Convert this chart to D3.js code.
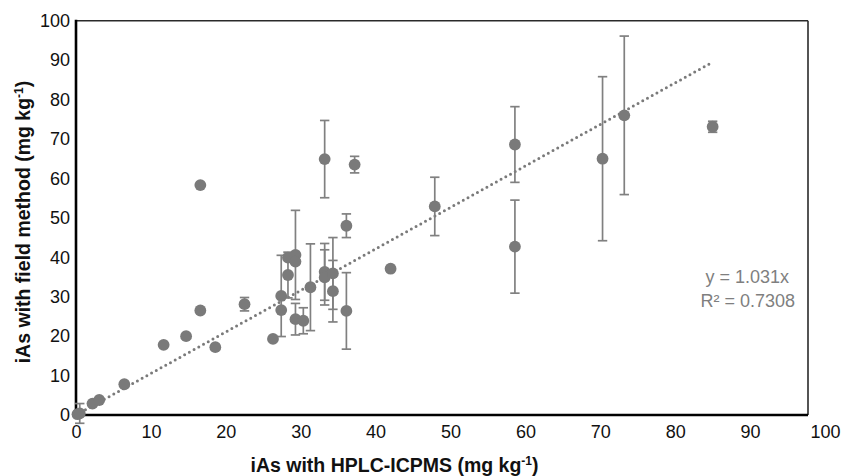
<!DOCTYPE html>
<html>
<head>
<meta charset="utf-8">
<script src="https://cdn.jsdelivr.net/npm/d3@7"></script>
<style>
  html, body { margin: 0; padding: 0; background: #fff; }
  svg { display: block; font-family: "Liberation Sans", Arial, Helvetica, sans-serif; }
</style>
</head>
<body>
<svg id="chart" width="841" height="476"></svg>
<script>
// ---- data ----
const hplcValues  = [0.2, 0.5, 2.2, 3.1, 6.45, 11.7, 14.7, 16.6, 16.6, 18.6, 22.5, 26.3, 27.4, 27.4, 28.3, 28.3, 29.3, 29.3, 29.3, 30.35, 31.3, 33.2, 33.2, 33.2, 34.3, 34.3, 36.1, 36.1, 37.2, 42.0, 47.9, 58.6, 58.6, 70.3, 73.2, 85.0];
const fieldValues = [0.2, 0.4, 2.9, 3.8, 7.8, 17.8, 20.0, 26.5, 58.3, 17.2, 28.1, 19.3, 30.2, 26.6, 35.5, 39.9, 40.6, 38.9, 24.3, 23.9, 32.4, 36.3, 34.9, 64.9, 35.9, 31.4, 26.4, 48.0, 63.5, 37.1, 52.9, 68.6, 42.7, 65.0, 76.0, 73.1];
const errorValues = [0, 2.5, 0, 0, 0, 0, 0, 0, 0, 0, 1.7, 0, 10.3, 0, 5.8, 0, 11.3, 0, 4.0, 3.3, 11.0, 7.2, 7.0, 9.8, 9.1, 7.8, 9.7, 3.0, 2.1, 0, 7.4, 9.6, 11.8, 20.8, 20.1, 1.4];
const xTicks = [0, 10, 20, 30, 40, 50, 60, 70, 80, 90, 100];
const yTicks = [0, 10, 20, 30, 40, 50, 60, 70, 80, 90, 100];
const trendX = [0, 85];
const trendSlope = 1.053;   // slope of the drawn dotted line as it appears
const equationLines = ["y = 1.031x", "R² = 0.7308"];

// ---- layout ----
const svg = d3.select("#chart");
const mLeft = 76, mTop = 20.7, mBottom = 415, frameRight = 808, scaleRight = 825;
const x = d3.scaleLinear().domain([0, 100]).range([mLeft, scaleRight]);
const y = d3.scaleLinear().domain([0, 100]).range([mBottom, mTop]);
const grey = "#7a7a7a";

// frame (top/right thinner)
svg.append("line").attr("x1", mLeft).attr("x2", frameRight).attr("y1", mTop).attr("y2", mTop)
  .attr("stroke", "#2a2a2a").attr("stroke-width", 1.6);
svg.append("line").attr("x1", frameRight).attr("x2", frameRight).attr("y1", mTop).attr("y2", mBottom)
  .attr("stroke", "#2a2a2a").attr("stroke-width", 1.6);

// axes
const xAxis = d3.axisBottom(x).tickValues(xTicks).tickSize(0).tickPadding(10).tickFormat(d3.format("d"));
const yAxis = d3.axisLeft(y).tickValues(yTicks).tickSize(0).tickPadding(6).tickFormat(d3.format("d"));
const gx = svg.append("g").attr("transform", `translate(0,${mBottom})`).call(xAxis);
const gy = svg.append("g").attr("transform", `translate(${mLeft},0)`).call(yAxis);
[gx, gy].forEach(g => {
  g.select(".domain").remove();
  g.selectAll("text").attr("font-size", 18).attr("fill", "#111")
    .attr("font-family", "'Liberation Sans', Arial, sans-serif");
});
svg.append("line").attr("x1", mLeft).attr("x2", frameRight).attr("y1", mBottom).attr("y2", mBottom)
  .attr("stroke", "#000").attr("stroke-width", 2.6);
svg.append("line").attr("x1", mLeft).attr("x2", mLeft).attr("y1", mTop - 1).attr("y2", mBottom + 1.3)
  .attr("stroke", "#000").attr("stroke-width", 2.6);

// trend line (dotted)
svg.append("line")
  .attr("x1", x(trendX[0])).attr("y1", y(trendX[0] * trendSlope))
  .attr("x2", x(trendX[1])).attr("y2", y(trendX[1] * trendSlope))
  .attr("stroke", grey).attr("stroke-width", 3)
  .attr("stroke-linecap", "round").attr("stroke-dasharray", "0 5.4");

// error bars
const pts = hplcValues.map((v, i) => ({ hx: v, fy: fieldValues[i], e: errorValues[i] }));
const eb = svg.append("g").attr("stroke", "#808080").attr("stroke-width", 1.7).attr("fill", "none");
pts.filter(d => d.e > 0).forEach(d => {
  const cx = x(d.hx), y1 = y(d.fy + d.e), y2 = y(d.fy - d.e);
  eb.append("line").attr("x1", cx).attr("x2", cx).attr("y1", y1).attr("y2", y2);
  eb.append("line").attr("x1", cx - 4.7).attr("x2", cx + 4.7).attr("y1", y1).attr("y2", y1);
  eb.append("line").attr("x1", cx - 4.7).attr("x2", cx + 4.7).attr("y1", y2).attr("y2", y2);
});

// points
svg.append("g").selectAll("circle").data(pts).join("circle")
  .attr("cx", d => x(d.hx)).attr("cy", d => y(d.fy)).attr("r", 5.9)
  .attr("fill", grey);

// equation
svg.append("g").selectAll("text").data(equationLines).join("text")
  .attr("x", (d, i) => i === 0 ? 789 : 795)
  .attr("y", (d, i) => 283 + i * 23.5)
  .attr("text-anchor", "end").attr("font-size", 18).attr("fill", "#7f7f7f")
  .text(d => d);

// axis titles
const xt = svg.append("text").attr("x", 394.5).attr("y", 472).attr("text-anchor", "middle")
  .attr("font-size", 19.5).attr("font-weight", "bold").attr("fill", "#111");
xt.append("tspan").text("iAs with HPLC-ICPMS (mg kg");
xt.append("tspan").attr("font-size", 12).attr("dy", -7).text("-1");
xt.append("tspan").attr("dy", 7).text(")");

const yt = svg.append("text").attr("transform", "translate(30,222) rotate(-90)").attr("text-anchor", "middle")
  .attr("font-size", 19.5).attr("font-weight", "bold").attr("fill", "#111");
yt.append("tspan").text("iAs with field method (mg kg");
yt.append("tspan").attr("font-size", 12).attr("dy", -7).text("-1");
yt.append("tspan").attr("dy", 7).text(")");
</script>
</body>
</html>
